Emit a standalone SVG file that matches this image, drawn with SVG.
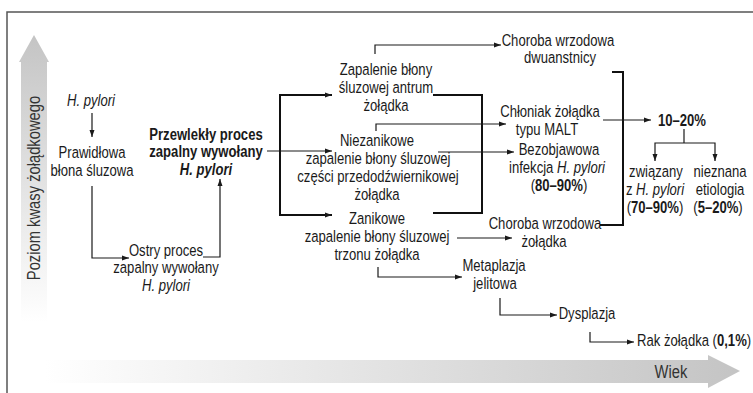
<svg xmlns="http://www.w3.org/2000/svg" width="753" height="393" viewBox="0 0 753 393">
<defs>
<linearGradient id="gv" x1="0" y1="0" x2="0" y2="1">
<stop offset="0" stop-color="#c4c4c4"/>
<stop offset="1" stop-color="#ffffff"/>
</linearGradient>
<linearGradient id="gh" x1="0" y1="0" x2="1" y2="0">
<stop offset="0" stop-color="#ffffff"/>
<stop offset="1" stop-color="#c4c4c4"/>
</linearGradient>
<marker id="ah" markerUnits="userSpaceOnUse" markerWidth="8" markerHeight="6" refX="7" refY="3" orient="auto">
<path d="M0,0.5 L7,3 L0,5.5 z" fill="#1a1a1a"/>
</marker>
<style>
text{font-family:"Liberation Sans",Arial,sans-serif;font-size:17px;fill:#1a1a1a;text-anchor:middle}
.b{font-weight:bold}
.i{font-style:italic}
.ax{font-size:19px;fill:#333}
.c{fill:none;stroke:#1a1a1a;stroke-width:1.2}
.a{marker-end:url(#ah)}
.t{fill:none;stroke:#111;stroke-width:2}
</style>
</defs>
<rect width="753" height="393" fill="#fff"/>
<path d="M7,393 V12 H753" fill="none" stroke="#555" stroke-width="1.5"/>
<g id="axis-y">
<path d="M34,35 L49,62 L47,62 L47,322 L21,322 L21,62 L19,62 Z" fill="url(#gv)"/>
<text class="ax" transform="translate(40,188) rotate(-90) scale(0.776,1)">Poziom kwasy żołądkowego</text>
</g>
<g id="axis-x">
<path d="M45,360 H708 V355 L740,371 L708,388 V383 H45 Z" fill="url(#gh)"/>
<text class="ax" transform="matrix(0.776 0 0 1 671 0)" y="378">Wiek</text>
</g>
<g id="connectors">
<path class="c a" d="M92,113 V137"/>
<path class="c a" d="M92,186 V258 H129"/>
<path class="c a" d="M203,257 H220 V179"/>
<path class="c a" d="M267,151 H332"/>
<path class="t" d="M280,94 V216"/>
<path class="t a" d="M280,95 H332"/>
<path class="t a" d="M280,215 H332"/>
<path class="c a" d="M375,54 V45 H501"/>
<path class="t" d="M433,95 H482 V213 H433"/>
<path class="c a" d="M376,131 V124 H506"/>
<path class="c a" d="M438,152 H514"/>
<path class="c a" d="M457,238 H512"/>
<path class="t" d="M612,72 H623 V225 H600"/>
<path class="c a" d="M603,120 H651"/>
<path class="c" d="M684,129 V143"/>
<path class="c a" d="M684,143 H655 V161"/>
<path class="c a" d="M684,143 H715 V161"/>
<path class="c a" d="M378,267 V277 H462"/>
<path class="c a" d="M500,298 V315 H557"/>
<path class="c a" d="M590,332 V342 H634"/>
</g>
<g id="n-hpylori"><text class="i" transform="matrix(0.77 0 0 1 91 0)" y="106">H. pylori</text></g>
<g id="n-prawidlowa"><text transform="matrix(0.77 0 0 1 92 0)" y="158">Prawidłowa</text><text transform="matrix(0.77 0 0 1 92 0)" y="176">błona śluzowa</text></g>
<g id="n-ostry"><text transform="matrix(0.77 0 0 1 166 0)" y="256">Ostry proces</text><text transform="matrix(0.77 0 0 1 166 0)" y="273">zapalny wywołany</text><text class="i" transform="matrix(0.77 0 0 1 166 0)" y="291">H. pylori</text></g>
<g id="n-przewlekly"><text class="b" transform="matrix(0.77 0 0 1 206 0)" y="140">Przewlekły proces</text><text class="b" transform="matrix(0.77 0 0 1 206 0)" y="157">zapalny wywołany</text><text class="b i" transform="matrix(0.77 0 0 1 206 0)" y="175">H. pylori</text></g>
<g id="n-antrum"><text transform="matrix(0.77 0 0 1 386 0)" y="75">Zapalenie błony</text><text transform="matrix(0.77 0 0 1 386 0)" y="93">śluzowej antrum</text><text transform="matrix(0.77 0 0 1 386 0)" y="111">żołądka</text></g>
<g id="n-niezanikowe"><text transform="matrix(0.77 0 0 1 377 0)" y="146">Niezanikowe</text><text transform="matrix(0.77 0 0 1 378 0)" y="164">zapalenie błony śluzowej</text><text transform="matrix(0.77 0 0 1 378 0)" y="182">części przedodźwiernikowej</text><text transform="matrix(0.77 0 0 1 377 0)" y="200">żołądka</text></g>
<g id="n-zanikowe"><text transform="matrix(0.77 0 0 1 377 0)" y="224">Zanikowe</text><text transform="matrix(0.77 0 0 1 377 0)" y="242">zapalenie błony śluzowej</text><text transform="matrix(0.77 0 0 1 377 0)" y="260">trzonu żołądka</text></g>
<g id="n-dwunastnica"><text transform="matrix(0.77 0 0 1 558 0)" y="46">Choroba wrzodowa</text><text transform="matrix(0.77 0 0 1 560 0)" y="63">dwuanstnicy</text></g>
<g id="n-malt"><text transform="matrix(0.77 0 0 1 550 0)" y="117">Chłoniak żołądka</text><text transform="matrix(0.77 0 0 1 547 0)" y="135">typu MALT</text></g>
<g id="n-bezobjawowa"><text transform="matrix(0.77 0 0 1 559 0)" y="155">Bezobjawowa</text><text transform="matrix(0.77 0 0 1 557 0)" y="173">infekcja <tspan class="i">H. pylori</tspan></text><text transform="matrix(0.77 0 0 1 559 0)" y="191">(<tspan class="b">80–90%</tspan>)</text></g>
<g id="n-zoladek"><text transform="matrix(0.77 0 0 1 545 0)" y="229">Choroba wrzodowa</text><text transform="matrix(0.77 0 0 1 544 0)" y="247">żołądka</text></g>
<g id="n-1020"><text class="b" transform="matrix(0.77 0 0 1 682 0)" y="126">10–20%</text></g>
<g id="n-zwiazany"><text transform="matrix(0.77 0 0 1 656 0)" y="177">związany</text><text transform="matrix(0.77 0 0 1 655 0)" y="195">z <tspan class="i">H. pylori</tspan></text><text transform="matrix(0.77 0 0 1 655 0)" y="213">(<tspan class="b">70–90%</tspan>)</text></g>
<g id="n-nieznana"><text transform="matrix(0.77 0 0 1 720 0)" y="177">nieznana</text><text transform="matrix(0.77 0 0 1 720 0)" y="195">etiologia</text><text transform="matrix(0.77 0 0 1 718 0)" y="213">(<tspan class="b">5–20%</tspan>)</text></g>
<g id="n-metaplazja"><text transform="matrix(0.77 0 0 1 494 0)" y="271">Metaplazja</text><text transform="matrix(0.77 0 0 1 495 0)" y="289">jelitowa</text></g>
<g id="n-dysplazja"><text transform="matrix(0.77 0 0 1 587 0)" y="319">Dysplazja</text></g>
<g id="n-rak"><text transform="matrix(0.77 0 0 1 637 0)" y="346" style="text-anchor:start">Rak żołądka (<tspan class="b">0,1%</tspan>)</text></g>
</svg>
